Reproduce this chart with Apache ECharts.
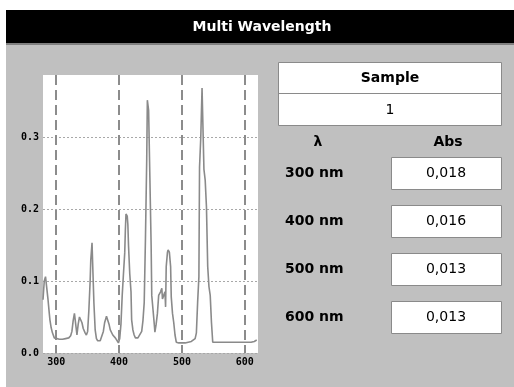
<!DOCTYPE html>
<html>
<head>
<meta charset="utf-8">
<script src="https://cdn.jsdelivr.net/npm/echarts@6/dist/echarts.min.js"></script>
<style>
  html, body { margin: 0; padding: 0; background: #fff; }
  #chart { width: 514px; height: 387px; }
</style>
</head>
<body>
<div id="chart"></div>
<script>
// spectrum
const waveNm = [279, 281, 283, 285, 287, 289, 290, 292, 294, 297, 300, 305, 310, 315, 320, 323, 325, 327, 329, 331,
  333, 335, 337, 339, 341, 343, 346, 348, 350, 352, 354, 355, 357, 358, 360, 362, 364, 366, 370, 373,
  375, 377, 380, 382, 384, 386, 390, 394, 397, 399, 401, 403, 405, 407, 409, 410, 411, 413, 414, 415,
  417, 419, 420, 422, 424, 426, 430, 433, 436, 438, 440, 442, 444, 445, 447, 449, 451, 452, 454, 456,
  457, 459, 461, 463, 466, 468, 469, 471, 473, 474, 475, 477, 478, 480, 482, 483, 485, 487, 489, 491,
  495, 500, 505, 510, 515, 518, 521, 523, 525, 527, 528, 530, 532, 533, 535, 537, 539, 541, 543, 545,
  547, 549, 555, 560, 570, 580, 590, 600, 610, 615, 619];
const absorb = [0.074, 0.100, 0.106, 0.104, 0.074, 0.055, 0.046, 0.035, 0.028, 0.021, 0.019, 0.019, 0.019, 0.020, 0.021, 0.024, 0.030, 0.045, 0.055, 0.040,
  0.025, 0.040, 0.050, 0.052, 0.042, 0.034, 0.028, 0.025, 0.030, 0.060, 0.100, 0.129, 0.153, 0.124, 0.069, 0.032, 0.020, 0.017, 0.017, 0.018,
  0.030, 0.042, 0.051, 0.049, 0.040, 0.032, 0.025, 0.021, 0.017, 0.014, 0.020, 0.040, 0.080, 0.110, 0.139, 0.170, 0.193, 0.190, 0.178, 0.150,
  0.110, 0.085, 0.046, 0.032, 0.025, 0.021, 0.021, 0.022, 0.030, 0.045, 0.070, 0.160, 0.269, 0.351, 0.337, 0.244, 0.150, 0.080, 0.060, 0.040,
  0.029, 0.040, 0.055, 0.080, 0.085, 0.090, 0.075, 0.080, 0.085, 0.064, 0.120, 0.140, 0.143, 0.140, 0.120, 0.078, 0.055, 0.042, 0.025, 0.015,
  0.014, 0.014, 0.014, 0.015, 0.016, 0.017, 0.020, 0.028, 0.071, 0.106, 0.258, 0.300, 0.368, 0.368, 0.255, 0.240, 0.203, 0.120, 0.092, 0.080,
  0.042, 0.015, 0.015, 0.015, 0.015, 0.015, 0.015, 0.015, 0.015, 0.016, 0.018];

// table on the right
const sampleName = '1';
const lambdaLabels = ['300 nm', '400 nm', '500 nm', '600 nm'];
const absValues = ['0,018', '0,016', '0,013', '0,013'];

let myChart = echarts.init(document.getElementById('chart'));

let boldFont = 'DejaVu Sans';
let tableGraphics = [
    // white margin around the window
    {type: 'rect', shape: {x: 0, y: 0, width: 514, height: 10}, style: {fill: '#fff'}},
    {type: 'rect', shape: {x: 0, y: 0, width: 6, height: 387}, style: {fill: '#fff'}},
    // title bar
    {type: 'rect', shape: {x: 6, y: 10, width: 508, height: 33}, style: {fill: '#000'}},
    {type: 'line', shape: {x1: 6, y1: 44, x2: 514, y2: 44}, style: {stroke: '#808080', lineWidth: 2}},
    {type: 'text', x: 262, y: 27, style: {text: 'Multi Wavelength', fill: '#fff', font: 'bold 14px ' + boldFont, align: 'center', verticalAlign: 'middle'}},
    // sample box
    {type: 'rect', shape: {x: 278.5, y: 62.5, width: 223, height: 63}, style: {fill: '#fff', stroke: '#8a8a8a', lineWidth: 1}},
    {type: 'line', shape: {x1: 278.5, y1: 93.5, x2: 501.5, y2: 93.5}, style: {stroke: '#8a8a8a', lineWidth: 1}},
    {type: 'text', x: 390, y: 78, style: {text: 'Sample', fill: '#000', font: 'bold 14px ' + boldFont, align: 'center', verticalAlign: 'middle'}},
    {type: 'text', x: 390, y: 110, style: {text: sampleName, fill: '#000', font: '14px ' + boldFont, align: 'center', verticalAlign: 'middle'}},
    {type: 'text', x: 318, y: 142, style: {text: 'λ', fill: '#000', font: 'bold 14px ' + boldFont, align: 'center', verticalAlign: 'middle'}},
    {type: 'text', x: 448, y: 142, style: {text: 'Abs', fill: '#000', font: 'bold 14px ' + boldFont, align: 'center', verticalAlign: 'middle'}}
];
for (let i = 0; i < lambdaLabels.length; i++) {
    let top = 157 + i * 48;
    tableGraphics.push(
        {type: 'text', x: 285, y: top + 16, style: {text: lambdaLabels[i], fill: '#000', font: 'bold 14px ' + boldFont, align: 'left', verticalAlign: 'middle'}},
        {type: 'rect', shape: {x: 391.5, y: top + 0.5, width: 110, height: 32}, style: {fill: '#fff', stroke: '#8a8a8a', lineWidth: 1}},
        {type: 'text', x: 446, y: top + 16, style: {text: absValues[i], fill: '#000', font: '14px ' + boldFont, align: 'center', verticalAlign: 'middle'}}
    );
}

let option = {
    backgroundColor: '#c0c0c0',
    animation: false,
    grid: {
        left: 43,
        right: 256,
        top: 75,
        bottom: 34,
        show: true,
        backgroundColor: '#fff',
        borderWidth: 0
    },
    xAxis: {
        type: 'value',
        min: 279,
        max: 621,
        splitNumber: 4,
        axisLine: {show: false},
        axisTick: {show: false},
        axisLabel: {
            margin: 4,
            showMinLabel: false,
            showMaxLabel: false,
            color: '#000',
            fontFamily: 'DejaVu Sans Mono',
            fontWeight: 'bold',
            fontSize: 10
        },
        splitLine: {
            show: true,
            showMinLine: false,
            showMaxLine: false,
            lineStyle: {color: '#8c8c8c', width: 2, type: [10, 5]}
        }
    },
    yAxis: {
        type: 'value',
        min: 0,
        max: 0.386,
        interval: 0.1,
        axisLine: {show: false},
        axisTick: {show: false},
        axisLabel: {
            margin: 4,
            showMaxLabel: false,
            color: '#000',
            fontFamily: 'DejaVu Sans Mono',
            fontWeight: 'bold',
            fontSize: 10,
            formatter: function (v) { return v.toFixed(1); }
        },
        splitLine: {
            show: true,
            showMaxLine: false,
            lineStyle: {color: '#a8a8a8', width: 1, type: [2, 2]}
        }
    },
    series: [{
        type: 'line',
        showSymbol: false,
        data: waveNm.map(function (w, i) { return [w, absorb[i]]; }),
        lineStyle: {color: '#8a8a8a', width: 1.6},
        itemStyle: {color: '#8a8a8a'}
    }],
    graphic: tableGraphics
};

myChart.setOption(option);
</script>
</body>
</html>
